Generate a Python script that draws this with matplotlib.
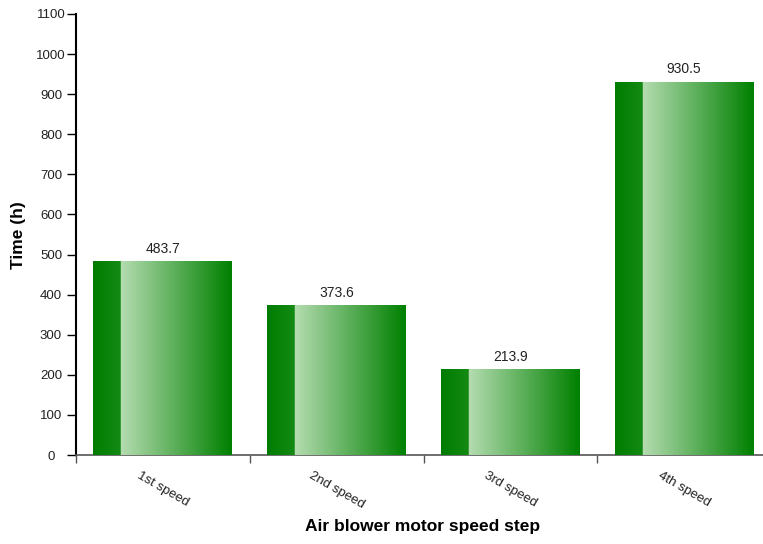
import numpy as np
import matplotlib
matplotlib.use("Agg")
import matplotlib.pyplot as plt

plt.rcParams['font.family'] = ['Liberation Sans', 'DejaVu Sans']

# data
categories = ['1st speed', '2nd speed', '3rd speed', '4th speed']
hours = [483.7, 373.6, 213.9, 930.5]

fig = plt.figure(figsize=(7.63, 5.44), dpi=100)
ax = fig.add_axes([76 / 763, 89 / 544, 695 / 763, 441 / 544])

x = np.arange(len(categories)) + 0.5
bars = ax.bar(x, hours, width=0.8, color='#008000', zorder=2)

# colour strip used for every bar: dark solid part then light->dark gradient
n = 200
n_solid = 40
solid = np.linspace([0, 125, 0], [20, 138, 20], n_solid)
grad = np.linspace([180, 220, 176], [0, 128, 0], n - n_solid)
strip = (np.vstack([solid, grad]) / 255.0)[np.newaxis, :, :]

for b in bars:
    x0, w, h = b.get_x(), b.get_width(), b.get_height()
    im = ax.imshow(strip, extent=(x0, x0 + w, 0, h), aspect='auto',
                   interpolation='bilinear', zorder=3)
    im.set_clip_path(b)
    ax.annotate(f'{h:.1f}', (x0 + w / 2, h), xytext=(0, 4),
                textcoords='offset points', ha='center', va='bottom',
                fontsize=10, color='#222222')

ax.set_xlim(0, 4)
ax.set_ylim(0, 1100)
ax.set_yticks(np.arange(0, 1101, 100))
ax.tick_params(axis='y', length=6.5, width=1, pad=11.5, labelsize=9.5,
               color='black', labelcolor='#222222')
for lab in ax.get_yticklabels():
    lab.set_ha('center')

ax.set_xticks(np.arange(0, 4))
ax.set_xticklabels([])
ax.set_xticks(x, minor=True)
ax.set_xticklabels(categories, minor=True, rotation=-30, ha='center', va='top',
                   fontsize=9.5, color='#222222')
ax.tick_params(axis='x', which='major', length=6, width=1, color='#555555')
ax.tick_params(axis='x', which='minor', length=0, pad=10.5)

ax.spines['top'].set_visible(False)
ax.spines['right'].set_visible(False)
ax.spines['left'].set_linewidth(1.5)
ax.spines['bottom'].set_color('#555555')
ax.spines['bottom'].set_linewidth(1.2)

fig.text(18 / 763, 1 - 235 / 544, 'Time (h)', rotation=90, ha='center', va='center',
         fontsize=12.5, fontweight='bold')
fig.text(423 / 763, 1 - 527 / 544, 'Air blower motor speed step', ha='center',
         va='center', fontsize=12.5, fontweight='bold')

fig.savefig('out.png', dpi=100)
